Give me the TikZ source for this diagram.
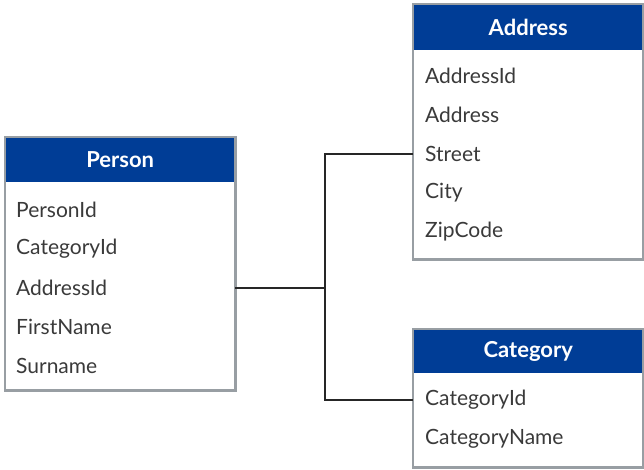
\documentclass[tikz,border=0pt]{standalone}
\usepackage{fontspec}
\setmainfont{Lato}
\usetikzlibrary{positioning}

\definecolor{hdrblue}{RGB}{0,61,150}
\definecolor{framegray}{RGB}{152,158,163}
\definecolor{fldtext}{RGB}{58,58,58}

\tikzset{
  tbl/.style={fill=white, anchor=north west, inner sep=0pt},
  hdr/.style={fill=hdrblue, text=white, anchor=north, inner sep=0pt,
    font=\fontsize{22}{24}\selectfont\bfseries},
  frame/.style={draw=framegray, line width=2.5pt},
  fld/.style={anchor=west, inner sep=0pt, text=fldtext,
    font=\fontsize{21}{24}\selectfont},
  link/.style={draw=black!85, line width=1.3pt}
}

\begin{document}
\begin{tikzpicture}[x=1pt, y=-1pt]
  \useasboundingbox (0,0) rectangle (644,470);

  % Tables
  \node[tbl, minimum width=230pt, minimum height=253pt] (person) at (5,137) {};
  \node[hdr, minimum width=230pt, minimum height=45pt] (personH) at (person.north) {Person};
  \draw[frame] (person.south west) rectangle (person.north east);

  \node[tbl, minimum width=230pt, minimum height=255pt] (address) at (413,4) {};
  \node[hdr, minimum width=230pt, minimum height=46pt] (addressH) at (address.north) {Address};
  \draw[frame] (address.south west) rectangle (address.north east);

  \node[tbl, minimum width=230pt, minimum height=138pt] (category) at (413,329) {};
  \node[hdr, minimum width=230pt, minimum height=44pt] (categoryH) at (category.north) {Category};
  \draw[frame] (category.south west) rectangle (category.north east);

  % Champs
  \foreach \t [count=\i] in {PersonId,CategoryId,AddressId,FirstName,Surname}
    \node[fld] (p\i) at (16,171+39*\i) {\t};
  \foreach \t [count=\i] in {AddressId,Address,Street,City,ZipCode}
    \node[fld] (a\i) at (425,37+39*\i) {\t};
  \foreach \t [count=\i] in {CategoryId,CategoryName}
    \node[fld] (c\i) at (425,361+39*\i) {\t};

  % Liaisons
  \coordinate (jx) at (325,0);
  \draw[link] (person.east |- p3) -- (jx |- p3);
  \draw[link] (address.west |- a3) -| (jx |- c1) -- (category.west |- c1);
\end{tikzpicture}
\end{document}
